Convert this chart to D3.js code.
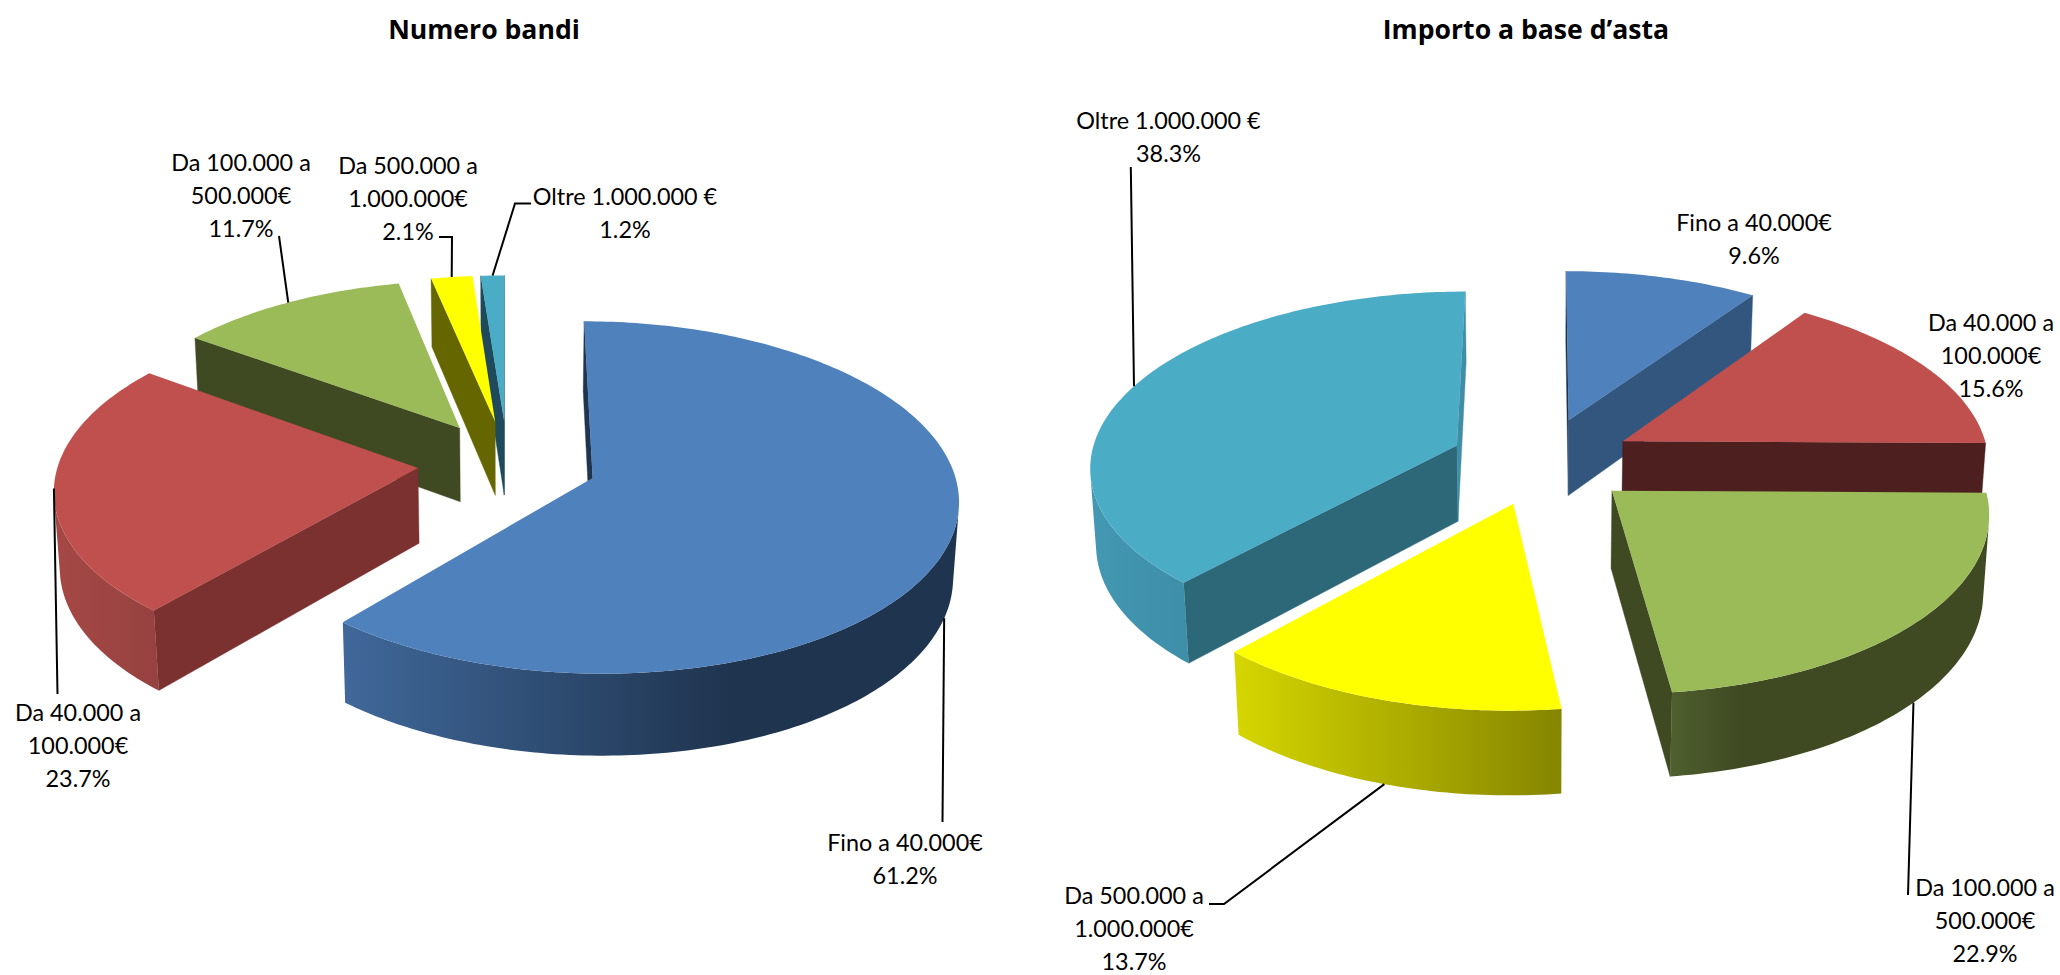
<!DOCTYPE html>
<html><head><meta charset="utf-8">
<style>html,body{margin:0;padding:0;background:#fff;overflow:hidden}svg{display:block}</style>
<script src="https://cdn.jsdelivr.net/npm/d3@7/dist/d3.min.js"></script>
</head><body><svg id="c" width="2060" height="975"></svg>
<script>
// ---- data ----
const titleLeft = "Numero bandi";
const titleRight = "Importo a base d\u2019asta";
const seriesLabels = [
  ["Fino a 40.000\u20ac"],
  ["Da 40.000 a", "100.000\u20ac"],
  ["Da 100.000 a", "500.000\u20ac"],
  ["Da 500.000 a", "1.000.000\u20ac"],
  ["Oltre 1.000.000 \u20ac"]
];
const numeroBandi = [61.2, 23.7, 11.7, 2.1, 1.2];
const importoAsta = [9.6, 15.6, 22.9, 13.7, 38.3];

// ---- styles ----
const topColors = ["#4f81bd", "#c0504d", "#9bbb59", "#ffff00", "#4bacc6"];
const FONT = "Lato, Carlito, sans-serif";
const LABEL_SIZE = 23.4;
const LINE_H = 33;

// ---- layout ----
const left = {
  values: numeroBandi, title: titleLeft, titleX: 484,
  X0: 507.5, Y0: 463, Rx: 359.5, Ry: 170.7, e: 0.25, depth: 76,
  startFace: ["#1f344f", "#7b3130", "#3f4a23", "#666600", "#1f4a5c"],
  endFace:   ["#1f344f", "#7b3130", "#3f4a23", "#666600", "#1f4a5c"],
  wall: [
    [[0, "#40689a"], [0.63, "#1f344f"], [1, "#1f344f"]],
    [[0, "#a54845"], [1, "#964240"]],
    [[0, "#3f4a23"], [1, "#3f4a23"]],
    [[0, "#666600"], [1, "#666600"]],
    [[0, "#1f4a5c"], [1, "#1f4a5c"]]
  ],
  labels: [
    {x: 905, y: 842, leader: [[942.5, 822]]},
    {x: 78, y: 712, leader: [[57.5, 694]]},
    {x: 241, y: 161.5, leader: [[279, 236]]},
    {x: 408, y: 164.5, leader: [[452, 237], [439, 237]]},
    {x: 625, y: 195.5, leader: [[515, 203.5], [531, 203.5]]}
  ]
};
const right = {
  values: importoAsta, title: titleRight, titleX: 1526,
  X0: 1542, Y0: 461, Rx: 367, Ry: 174, e: 0.251, depth: 77.5,
  startFace: ["#1f344f", "#4d1f1f", "#3f4a23", "#666600", "#2d6878"],
  endFace:   ["#33567f", "#4d1f1f", "#3f4a23", "#666600", "#3f8ea6"],
  wall: [
    [[0, "#33567f"], [1, "#33567f"]],
    [[0, "#4d1f1f"], [1, "#4d1f1f"]],
    [[0, "#4f5f2e"], [0.22, "#3f4a23"], [1, "#3f4a23"]],
    [[0, "#d6d600"], [1, "#858500"]],
    [[0, "#4398b2"], [1, "#3e8ea8"]]
  ],
  labels: [
    {x: 1754, y: 222},
    {x: 1991, y: 322},
    {x: 1985, y: 887, leader: [[1908, 895]]},
    {x: 1134, y: 895, leader: [[1224, 904], [1209, 904]]},
    {x: 1168.5, y: 120, leader: [[1130.8, 167]]}
  ]
};

const PERSP = 0.11, SHRINK = 0.013;
const svg = d3.select("#c");
const defs = svg.append("defs");
const line = d3.line();
const pieLayout = d3.pie().sort(null).value(d => d);

function signedArea(q) { return d3.polygonArea(q); }

function drawPie(cfg, id) {
  const g = svg.append("g");
  const project = (u, v, z) => {
    const f = 1 / (1 - PERSP * v + SHRINK * z);
    return [cfg.X0 + cfg.Rx * u * f, cfg.Y0 + (cfg.Ry * v + cfg.depth * z) * f];
  };
  const slices = pieLayout(cfg.values).map((s, i) => {
    const mid = (s.startAngle + s.endAngle) / 2;
    return {...s, i, mid,
      ou: cfg.e * Math.sin(mid), ov: -cfg.e * Math.cos(mid)};
  });
  const rim = (s, a, z) => project(s.ou + Math.sin(a), s.ov - Math.cos(a), z);
  const apex = (s, z) => project(s.ou, s.ov, z);

  // painter's order: far slices first
  slices.slice().sort((a, b) => a.ov - b.ov).forEach(s => {
    const n = Math.max(4, Math.ceil((s.endAngle - s.startAngle) / (Math.PI / 180)));
    const angles = d3.range(n + 1).map(k => s.startAngle + (s.endAngle - s.startAngle) * k / n);

    const face = (p1, p2, p1b, p2b, color) => {
      if (signedArea([p1, p2, p2b, p1b]) > 0) {
        g.append("path").attr("d", line([p1, p2, p2b, p1b]) + "Z")
          .attr("fill", color).attr("stroke", color).attr("stroke-width", 0.4);
      }
    };
    // radial cut faces
    face(apex(s, 0), rim(s, s.startAngle, 0), apex(s, 1), rim(s, s.startAngle, 1), cfg.startFace[s.i]);
    face(rim(s, s.endAngle, 0), apex(s, 0), rim(s, s.endAngle, 1), apex(s, 1), cfg.endFace[s.i]);

    // outer wall: contiguous visible run of the arc
    const runs = []; let cur = null;
    for (let k = 0; k < n; k++) {
      const a = rim(s, angles[k], 0), b = rim(s, angles[k + 1], 0),
            c = rim(s, angles[k + 1], 1), d = rim(s, angles[k], 1);
      if (signedArea([a, b, c, d]) > 0) {
        if (!cur) { cur = [k]; runs.push(cur); }
        cur[1] = k + 1;
      } else cur = null;
    }
    runs.forEach((r, ri) => {
      const as = angles.slice(r[0], r[1] + 1);
      const pts = as.map(a => rim(s, a, 0)).concat(as.slice().reverse().map(a => rim(s, a, 1)));
      const gid = `wall-${id}-${s.i}-${ri}`;
      const lg = defs.append("linearGradient").attr("id", gid)
        .attr("x1", 0).attr("x2", 1).attr("y1", 0).attr("y2", 0);
      cfg.wall[s.i].forEach(st => lg.append("stop").attr("offset", st[0]).attr("stop-color", st[1]));
      g.append("path").attr("d", line(pts) + "Z").attr("fill", `url(#${gid})`);
    });

    // top surface
    const topPts = [apex(s, 0)].concat(angles.map(a => rim(s, a, 0)));
    g.append("path").attr("d", line(topPts) + "Z").attr("fill", topColors[s.i]);
  });

  // leader lines, anchored at each slice's mid angle
  slices.forEach(s => {
    const lab = cfg.labels[s.i];
    if (!lab.leader) return;
    const z = -Math.cos(s.mid) > 0.2 ? 1 : 0;
    const start = rim(s, s.mid, z);
    g.append("path").attr("d", line([start].concat(lab.leader)))
      .attr("fill", "none").attr("stroke", "#000").attr("stroke-width", 2);
  });

  // labels
  slices.forEach(s => {
    const lab = cfg.labels[s.i];
    const lines = seriesLabels[s.i].concat([d3.format(".1f")(s.data) + "%"]);
    const t = g.append("text").attr("text-anchor", "middle")
      .attr("font-family", FONT).attr("font-size", LABEL_SIZE).attr("fill", "#000");
    lines.forEach((l, k) => t.append("tspan").attr("x", lab.x)
      .attr("y", lab.y + k * LINE_H).attr("dominant-baseline", "central").text(l));
  });

  // title
  svg.append("text").attr("x", cfg.titleX).attr("y", 29).attr("text-anchor", "middle")
    .attr("dominant-baseline", "central").attr("font-family", "'Open Sans', sans-serif")
    .attr("font-weight", 700).attr("font-size", 26.6).attr("fill", "#000").text(cfg.title);
}
drawPie(left, "l");
drawPie(right, "r");
</script></body></html>
